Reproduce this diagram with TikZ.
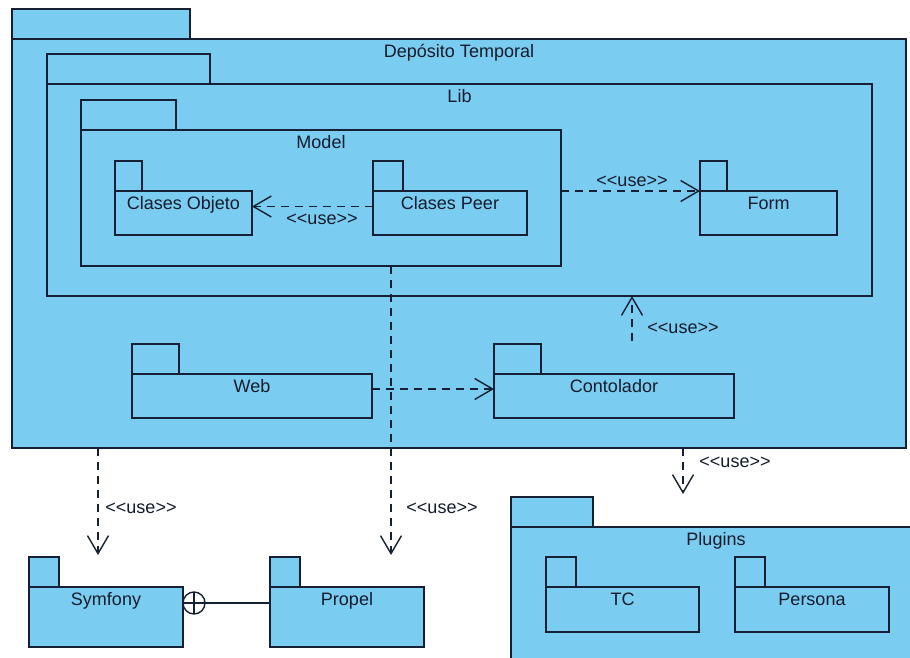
\documentclass[tikz,border=0pt]{standalone}
\usepackage{fontspec}
\setmainfont{Liberation Sans}
\usetikzlibrary{arrows.meta,fit}
\definecolor{pkgfill}{RGB}{122,204,240}
\definecolor{pkgline}{RGB}{22,32,52}
\definecolor{txt}{RGB}{20,28,45}
\newcommand\uselabel{<\kern0pt<use>\kern0pt>}
\newcommand\pkg[7]{%
  \node[pkgbody, fit={(#2,#3) (#4,#5)}] (#1) {};
  \draw[pkgtab] (#1.north west) rectangle ++(#6,-30);
  \node[ttl] (#1-title) at ([yshift=-18.5pt]#1.north) {#7};
}
\begin{document}
\begin{tikzpicture}[x=1pt,y=-1pt,
  pkgbody/.style={draw=pkgline, fill=pkgfill, line width=1.5pt, inner sep=0pt, outer sep=0pt},
  pkgtab/.style={draw=pkgline, fill=pkgfill, line width=1.5pt},
  ttl/.style={font=\fontsize{18}{21}\selectfont, anchor=base, text=txt, inner sep=0pt},
  uselbl/.style={font=\fontsize{18}{21}\selectfont, text=txt, inner sep=0pt},
  usearrow/.style={draw=pkgline, line width=1.4pt, dash pattern=on 8pt off 6pt,
    -{Straight Barb[length=18pt,width=21pt,line width=1.4pt]}},
  plainline/.style={draw=pkgline, line width=1.4pt}]
\useasboundingbox (0,0) rectangle (910,658);
\clip (0,0) rectangle (910,658);
\fill[white] (0,0) rectangle (910,658);

% packages
\pkg{deposito}{12}{39}{906}{448}{178}{Depósito Temporal}
\pkg{lib}{47}{84}{872}{296}{163}{Lib}
\pkg{model}{81}{130}{561}{266}{95}{Model}
\pkg{cobj}{115}{191}{252}{235}{27}{Clases Objeto}
\pkg{cpeer}{373}{191}{527}{235}{30}{Clases Peer}
\pkg{form}{700}{191}{837}{235}{27}{Form}
\pkg{web}{132}{374}{372}{418}{47}{Web}
\pkg{cont}{494}{374}{734}{418}{47}{Contolador}
\pkg{symf}{29}{587}{183}{647}{30}{Symfony}
\pkg{propel}{270}{587}{424}{647}{30}{Propel}
\pkg{plugins}{511}{527}{921}{700}{82}{Plugins}
\pkg{tc}{546}{587}{699}{632}{30}{TC}
\pkg{persona}{735}{587}{889}{632}{30}{Persona}

% free ends
\coordinate (contsrc) at (632,341);
\coordinate (propeltip) at (391,555);
\coordinate (symftip) at (98,555);
\coordinate (symfsrc) at (98,448);
\coordinate (plugsrc) at (683,448);
\coordinate (plugtip) at (683,494);

% dependencies
\draw[usearrow] ([yshift=-15.5pt]cpeer.north west) -- ([yshift=-15.5pt]cobj.north east);
\node[uselbl] (l1) at (322,219) {\uselabel};

\draw[usearrow] ([yshift=-61pt]model.north east) -- (form.north west);
\node[uselbl] (l2) at (632,181) {\uselabel};

\draw[usearrow] (contsrc) -- (contsrc |- lib.south);
\node[uselbl] (l3) at (683,328) {\uselabel};

\draw[usearrow] ([yshift=-15pt]web.north east) -- ([yshift=-15pt]cont.north west);

\draw[usearrow] (model.south -| propeltip) -- (propeltip);
\node[uselbl] (l4) at (442,508) {\uselabel};

\draw[usearrow] (symfsrc) -- (symftip);
\node[uselbl] (l5) at (141,508) {\uselabel};

\draw[usearrow] (plugsrc) -- (plugtip);
\node[uselbl] (l6) at (735,462) {\uselabel};

% nesting connector
\node[circle, draw=pkgline, line width=1.4pt, minimum size=22pt, inner sep=0pt, outer sep=0pt, anchor=west] (nest) at ([yshift=-16pt]symf.north east) {};
\draw[plainline] (nest.north) -- (nest.south);
\draw[plainline] (nest.west) -- (nest.east);
\draw[plainline] (nest.east) -- (nest.east -| propel.west);
\end{tikzpicture}
\end{document}
